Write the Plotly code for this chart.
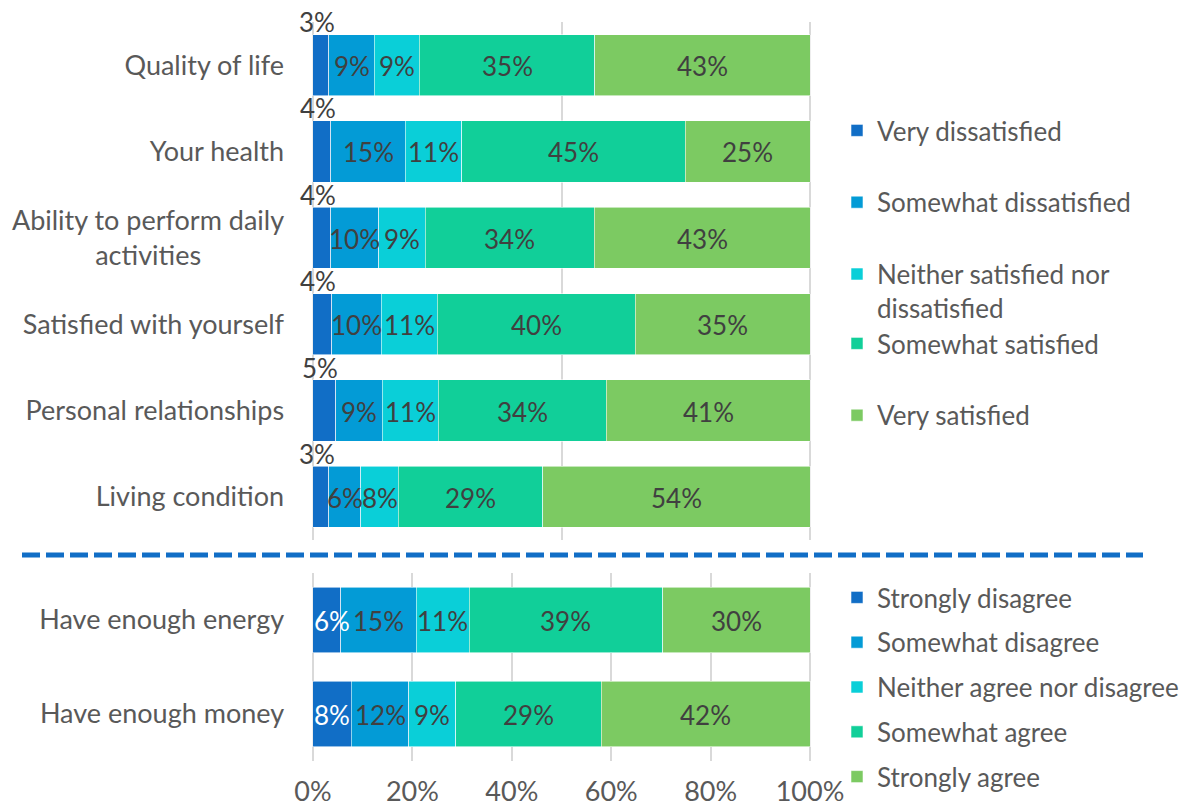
import plotly.graph_objects as go

# ---------------- data ----------------
top_categories = [
    "Quality of life",
    "Your health",
    "Ability to perform daily<br>activities" + "\u00a0" * 12,
    "Satisfied with yourself",
    "Personal relationships",
    "Living condition",
]
top_series = [
    "Very dissatisfied",
    "Somewhat dissatisfied",
    "Neither satisfied nor<br>dissatisfied",
    "Somewhat satisfied",
    "Very satisfied",
]
very_dissatisfied = [3.2, 3.6, 3.6, 3.8, 4.6, 3.2]
somewhat_dissatisfied = [9.1, 15.0, 9.6, 9.9, 9.3, 6.4]
neither_satisfied = [9.1, 11.3, 9.4, 11.3, 11.3, 7.6]
somewhat_satisfied = [35.3, 45.0, 34.0, 39.8, 33.8, 29.0]
very_satisfied = [43.3, 25.1, 43.4, 35.2, 41.0, 53.8]

bottom_categories = ["Have enough energy", "Have enough money"]
bottom_series = [
    "Strongly disagree",
    "Somewhat disagree",
    "Neither agree nor disagree",
    "Somewhat agree",
    "Strongly agree",
]
strongly_disagree = [5.6, 7.7]
somewhat_disagree = [15.2, 11.6]
neither_agree = [10.6, 9.4]
somewhat_agree = [39.0, 29.3]
strongly_agree = [29.6, 42.0]

x_ticks = [0, 20, 40, 60, 80, 100]
x_tick_labels = ["0%", "20%", "40%", "60%", "80%", "100%"]

# ---------------- style ----------------
colors = ["#116EC6", "#039BD6", "#0ACFD8", "#11CF99", "#7CCA62"]
FONT = "Lato"
FS_AXIS = 27
FS_LEG = 26
FS_DATA = 26
LABEL_GRAY = "#595959"
DATA_GRAY = "#404040"
W, H = 1190, 810

def px_x(p):
    return p / W

def px_y(p):
    return 1 - p / H

def pct(v):
    return "%.0f%%" % v

fig = go.Figure()

top_values = [very_dissatisfied, somewhat_dissatisfied, neither_satisfied,
              somewhat_satisfied, very_satisfied]
bottom_values = [strongly_disagree, somewhat_disagree, neither_agree,
                 somewhat_agree, strongly_agree]

# ---- bars ----
top_legends = ["legend", "legend", "legend", "legend3", "legend3"]
for i, (name, vals) in enumerate(zip(top_series, top_values)):
    fig.add_trace(go.Bar(
        x=vals, y=top_categories, orientation="h", name=name,
        marker=dict(color=colors[i], line=dict(color="rgba(255,255,255,0.7)", width=0.8)),
        width=0.71, textposition="none",
        xaxis="x", yaxis="y",
        legend=top_legends[i], legendgroup="t%d" % i,
        hoverinfo="x+y+name",
    ))

for i, (name, vals) in enumerate(zip(bottom_series, bottom_values)):
    fig.add_trace(go.Bar(
        x=vals, y=bottom_categories, orientation="h", name=name,
        marker=dict(color=colors[i], line=dict(color="rgba(255,255,255,0.7)", width=0.8)),
        width=0.70, textposition="none",
        xaxis="x2", yaxis="y2",
        legend="legend2", legendgroup="b%d" % i,
        hoverinfo="x+y+name",
    ))

# ---- data labels drawn on top of all bars (positions from the data) ----
def add_labels(values, cats, xa, ya, panel):
    cum = [0.0] * len(cats)
    for i, vals in enumerate(values):
        starts = cum[:]
        cum = [c + v for c, v in zip(cum, vals)]
        for cat, s, v in zip(cats, starts, vals):
            if i == 0 and panel == "top":
                # tiny segment: label sits just above the bar
                fig.add_annotation(
                    x=s + v / 2, y=cat, xref=xa, yref=ya, text=pct(v),
                    showarrow=False, xanchor="center", yanchor="bottom",
                    yshift=25, xshift=-4,
                    font=dict(family=FONT, size=FS_DATA, color=DATA_GRAY),
                )
            elif i == 0:
                # first segment of lower panel: white, starting at bar start
                fig.add_annotation(
                    x=s, y=cat, xref=xa, yref=ya, text=pct(v),
                    showarrow=False, xanchor="left", yanchor="middle",
                    xshift=-1, yshift=-1,
                    font=dict(family=FONT, size=FS_DATA, color="white"),
                )
            else:
                fig.add_annotation(
                    x=s + v / 2, y=cat, xref=xa, yref=ya, text=pct(v),
                    showarrow=False, xanchor="center", yanchor="middle",
                    yshift=-1,
                    font=dict(family=FONT, size=FS_DATA, color=DATA_GRAY),
                )

add_labels(top_values, top_categories, "x", "y", "top")
add_labels(bottom_values, bottom_categories, "x2", "y2", "bottom")

# dashed separator
fig.add_shape(
    type="line", xref="paper", yref="paper",
    x0=px_x(22), x1=px_x(1143), y0=px_y(555), y1=px_y(555),
    line=dict(color="#116EC6", width=5, dash="18px,6px"),
)

grid_col = "#D9D9D9"
legend_font = dict(family=FONT, size=FS_LEG, color=LABEL_GRAY)
XR = [-0.5, 100.5]
XDOM = [px_x(310.5), px_x(812.5)]

fig.update_layout(
    width=W, height=H,
    margin=dict(l=0, r=0, t=0, b=0),
    paper_bgcolor="white", plot_bgcolor="white",
    barmode="stack",
    font=dict(family=FONT, size=FS_AXIS, color=LABEL_GRAY),
    xaxis=dict(
        domain=XDOM, range=XR, autorange=False,
        tickmode="array", tickvals=[0, 50, 100],
        showticklabels=False, showgrid=True, gridcolor=grid_col, gridwidth=1.5,
        zeroline=False, showline=False, anchor="y", automargin=False,
    ),
    yaxis=dict(
        domain=[px_y(540), px_y(22)],
        range=[len(top_categories) - 0.5, -0.5], autorange=False,
        ticks="outside", ticklen=20, tickcolor="rgba(0,0,0,0)",
        tickfont=dict(family=FONT, size=FS_AXIS, color=LABEL_GRAY),
        showgrid=False, zeroline=False, showline=False, anchor="x", automargin=False,
    ),
    xaxis2=dict(
        domain=XDOM, range=XR, autorange=False,
        tickmode="array", tickvals=x_ticks, ticktext=x_tick_labels,
        ticks="outside", ticklen=7, tickcolor="rgba(0,0,0,0)",
        tickfont=dict(family=FONT, size=FS_AXIS, color=LABEL_GRAY),
        showgrid=True, gridcolor=grid_col, gridwidth=1.5,
        zeroline=False, showline=False, anchor="y2", automargin=False,
    ),
    yaxis2=dict(
        domain=[px_y(761), px_y(573)],
        range=[len(bottom_categories) - 0.5, -0.5], autorange=False,
        ticks="outside", ticklen=20, tickcolor="rgba(0,0,0,0)",
        tickfont=dict(family=FONT, size=FS_AXIS, color=LABEL_GRAY),
        showgrid=False, zeroline=False, showline=False, anchor="x2", automargin=False,
    ),
    legend=dict(
        x=px_x(837), y=px_y(107), xanchor="left", yanchor="top",
        font=legend_font, tracegroupgap=35, valign="top",
        bgcolor="rgba(0,0,0,0)", traceorder="grouped",
    ),
    legend3=dict(
        x=px_x(837), y=px_y(320), xanchor="left", yanchor="top",
        font=legend_font, tracegroupgap=35, valign="top",
        bgcolor="rgba(0,0,0,0)", traceorder="grouped",
    ),
    legend2=dict(
        x=px_x(837), y=px_y(574), xanchor="left", yanchor="top",
        font=legend_font, tracegroupgap=8, valign="middle",
        bgcolor="rgba(0,0,0,0)", traceorder="grouped",
    ),
    showlegend=True,
)

fig.write_html("out.html", config={"displayModeBar": False},
               post_script="document.body.style.margin='0px';")
